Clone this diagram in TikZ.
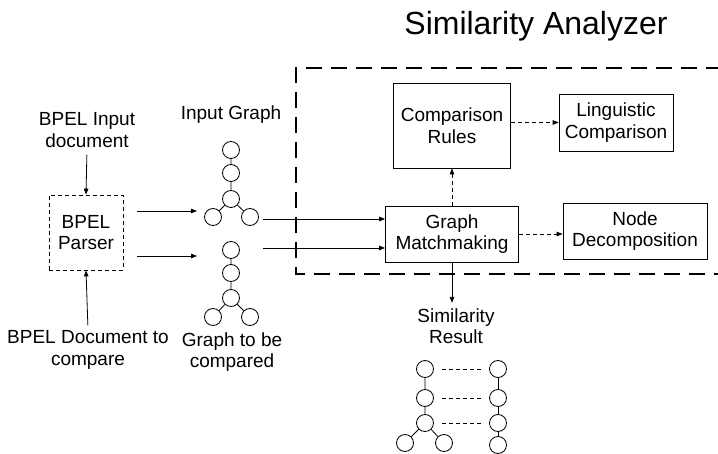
\documentclass[tikz,border=0pt]{standalone}
\usepackage{fontspec}
\setmainfont{Liberation Sans}
\usetikzlibrary{arrows.meta}

\begin{document}
\begin{tikzpicture}[x=1pt, y=-1pt, line width=0.8pt,
        txt/.style = {align=center, inner sep=1pt,
            font=\fontsize{19}{21.5}\selectfont},
        box/.style = {draw, txt, inner sep=0pt},
        gnode/.style = {circle, draw, minimum size=17pt, inner sep=0pt},
        arrow/.style = {-{Triangle[length=6pt, width=4.5pt]}},
        darrow/.style = {arrow, dash pattern=on 4pt off 3pt}]

        \useasboundingbox (0,0) rectangle (718,454);

        % Title
        \node[font=\fontsize{32}{36}\selectfont] (title) at (536,26) {Similarity Analyzer};

        % Analyzer frame
        \draw[line width=1.2pt, dash pattern=on 16pt off 9pt]
            (722,68) -- (296,68) -- (296,274) -- (722,274);

        % Inputs and parser
        \node[txt] (indoc) at (87,130) {BPEL Input\\document};
        \node[box, dash pattern=on 4pt off 3pt, minimum width=74pt,
            minimum height=75pt] (parser) at (86,232.5) {BPEL\\Parser};
        \node[txt] (cmpdoc) at (88,350) {BPEL Document to\\compare};

        \draw[arrow, shorten <=6pt] (indoc.south) -- (parser.north);
        \draw[arrow, shorten <=4pt] (cmpdoc.north) -- (parser.south);

        % Input graph
        \node[txt] (iglabel) at (231,115) {Input Graph};
        \node[gnode] (ig1) at (231,150) {};
        \node[gnode] (ig2) at (231,173) {};
        \node[gnode] (ig3) at (231,199) {};
        \node[gnode] (ig4) at (213,217) {};
        \node[gnode] (ig5) at (250,217) {};
        \draw (ig1) -- (ig2) -- (ig3) -- (ig4);
        \draw (ig3) -- (ig5);

        % Graph to be compared
        \node[gnode] (cg1) at (231,250) {};
        \node[gnode] (cg2) at (231,273) {};
        \node[gnode] (cg3) at (231,298) {};
        \node[gnode] (cg4) at (213,317) {};
        \node[gnode] (cg5) at (250,317) {};
        \draw (cg1) -- (cg2) -- (cg3) -- (cg4);
        \draw (cg3) -- (cg5);
        \node[txt] (cglabel) at (232,352) {Graph to be\\compared};

        % Parser output
        \coordinate (igin) at (197,211);
        \coordinate (cgin) at (197,256);
        \draw[arrow, shorten <=14pt] (parser.east |- igin) -- (igin);
        \draw[arrow, shorten <=14pt] (parser.east |- cgin) -- (cgin);

        % Analyzer boxes
        \node[box, minimum width=117pt, minimum height=85pt] (cr) at (452,125.5) {Comparison\\Rules};
        \node[box, minimum width=114pt, minimum height=57pt] (lc) at (616,122.5) {Linguistic\\Comparison};
        \node[box, minimum width=133pt, minimum height=56pt] (gm) at (452,234) {Graph\\Matchmaking};
        \node[box, minimum width=144pt, minimum height=56pt] (nd) at (635,231) {Node\\Decomposition};

        % Graphs into matchmaking
        \coordinate (igout) at (263,219);
        \coordinate (cgout) at (263,248);
        \draw[arrow] (igout) -- (gm.west |- igout);
        \draw[arrow] (cgout) -- (gm.west |- cgout);

        % Analyzer connectors
        \draw[darrow] (cr.east |- lc.west) -- (lc.west);
        \draw[darrow] (gm.north) -- (gm.north |- cr.south);
        \draw[darrow] (gm.east) -- (gm.east -| nd.west);

        % Similarity result
        \node[txt] (result) at (456,326) {Similarity\\Result};
        \draw[arrow, shorten >=4pt] (gm.south) -- (gm.south |- result.north);

        \node[gnode] (ra1) at (425,369) {};
        \node[gnode] (ra2) at (425,398) {};
        \node[gnode] (ra3) at (425,423) {};
        \node[gnode] (ra4) at (405,443) {};
        \node[gnode] (ra5) at (444,443) {};
        \draw (ra1) -- (ra2) -- (ra3) -- (ra4);
        \draw (ra3) -- (ra5);

        \node[gnode] (rb1) at (498,369) {};
        \node[gnode] (rb2) at (498,398) {};
        \node[gnode] (rb3) at (498,423) {};
        \node[gnode] (rb4) at (498,445) {};
        \draw (rb1) -- (rb2) -- (rb3) -- (rb4);

        % Matches
        \draw[dash pattern=on 4pt off 3pt, shorten <=8pt, shorten >=7pt] (ra1) -- (rb1);
        \draw[dash pattern=on 4pt off 3pt, shorten <=8pt, shorten >=7pt] (ra2) -- (rb2);
        \draw[dash pattern=on 4pt off 3pt, shorten <=8pt, shorten >=7pt] (ra3) -- (rb3);

    \end{tikzpicture}
\end{document}
